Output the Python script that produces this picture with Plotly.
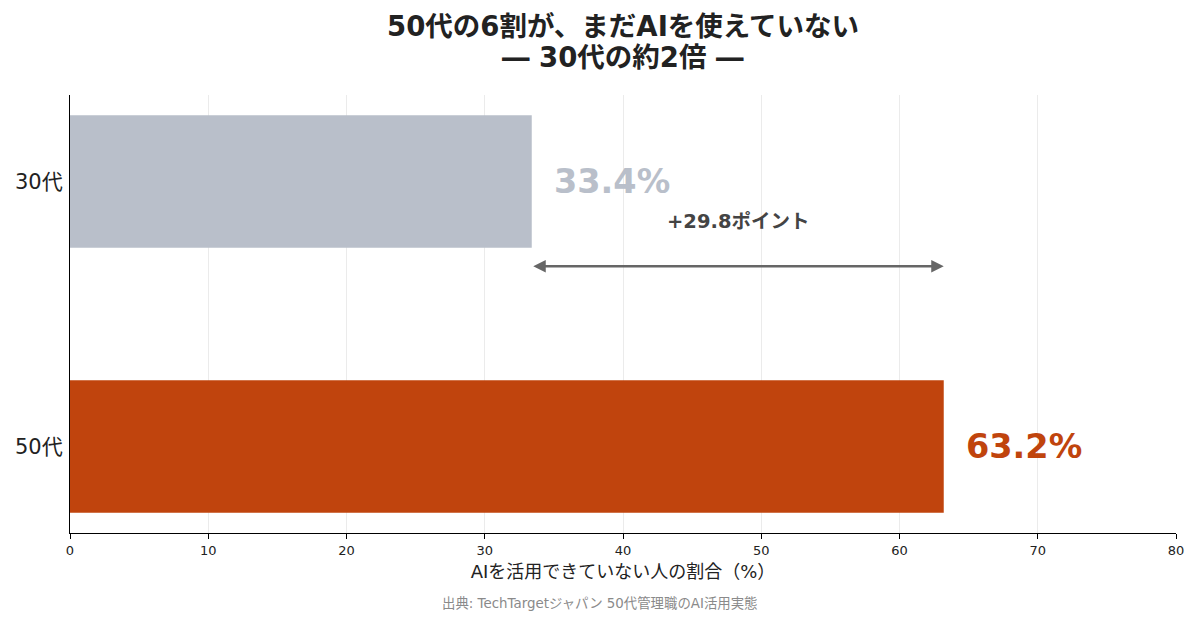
import plotly.graph_objects as go

categories = ["50代", "30代"]
values = [63.2, 33.4]
bar_colors = ["#C0440D", "#B9BFCA"]
label_texts = ["63.2%", "33.4%"]
diff_text = "+29.8ポイント"
x_ticks = [0, 10, 20, 30, 40, 50, 60, 70, 80]
title_lines = ["50代の6割が、まだAIを使えていない", "― 30代の約2倍 ―"]

FONT = "DejaVu Sans, Noto Sans CJK JP"

fig = go.Figure()
fig.add_trace(go.Bar(
    y=categories, x=values, orientation="h",
    marker=dict(color=bar_colors, line=dict(width=0)),
    width=0.5, hoverinfo="skip",
))

for cat, v, t, c in zip(categories, values, label_texts, bar_colors):
    fig.add_annotation(x=v + 1.5, y=cat, text=f"<b>{t}</b>", showarrow=False,
                       xanchor="left", yanchor="middle",
                       font=dict(family=FONT, size=33.5, color=c))

# double-headed arrow between the two values
fig.add_annotation(x=values[0], y=0.68, ax=values[1], ay=0.68,
                   xref="x", yref="y", axref="x", ayref="y",
                   text="", showarrow=True, arrowhead=2, startarrowhead=2,
                   arrowside="end+start", arrowsize=1, startarrowsize=1,
                   arrowwidth=2.5, arrowcolor="#666666")
fig.add_annotation(x=(values[0] + values[1]) / 2, y=0.85, text=f"<b>{diff_text}</b>",
                   showarrow=False, xanchor="center", yanchor="middle",
                   font=dict(family=FONT, size=19.5, color="#444444"))

# title (two lines)
for line, ypos in zip(title_lines, [1.1575, 1.0868]):
    fig.add_annotation(x=0.5, y=ypos, xref="paper", yref="paper",
                       text=f"<b>{line}</b>", showarrow=False,
                       xanchor="center", yanchor="middle",
                       font=dict(family=FONT, size=27.5, color="#222222"))

fig.add_annotation(x=0.479, y=-0.162, xref="paper", yref="paper",
                   text="出典: TechTargetジャパン 50代管理職のAI活用実態",
                   showarrow=False, xanchor="center", yanchor="middle",
                   font=dict(family=FONT, size=13.4, color="#8A8A8A"))

fig.update_layout(
    width=1192, height=612,
    margin=dict(l=62, r=24, t=87, b=87, autoexpand=False),
    paper_bgcolor="white", plot_bgcolor="white",
    showlegend=False,
    font=dict(family=FONT, color="#222222"),
    xaxis=dict(range=[0, 80], tickvals=x_ticks, showgrid=True, gridcolor="#EBEBEB",
               gridwidth=1, showline=True, linecolor="#000000", linewidth=1.2,
               ticks="outside", ticklen=5, tickcolor="#000000", zeroline=False,
               automargin=False,
               tickfont=dict(size=13, color="#222222"),
               title=dict(text="AIを活用できていない人の割合（%）", standoff=8,
                          font=dict(size=18, color="#222222"))),
    yaxis=dict(range=[-0.326, 1.326], showgrid=False, showline=True,
               linecolor="#000000", linewidth=1.2, ticks="", zeroline=False,
               automargin=False, ticklabelstandoff=2,
               tickfont=dict(size=21, color="#222222")),
)

fig.write_html("out.html")
